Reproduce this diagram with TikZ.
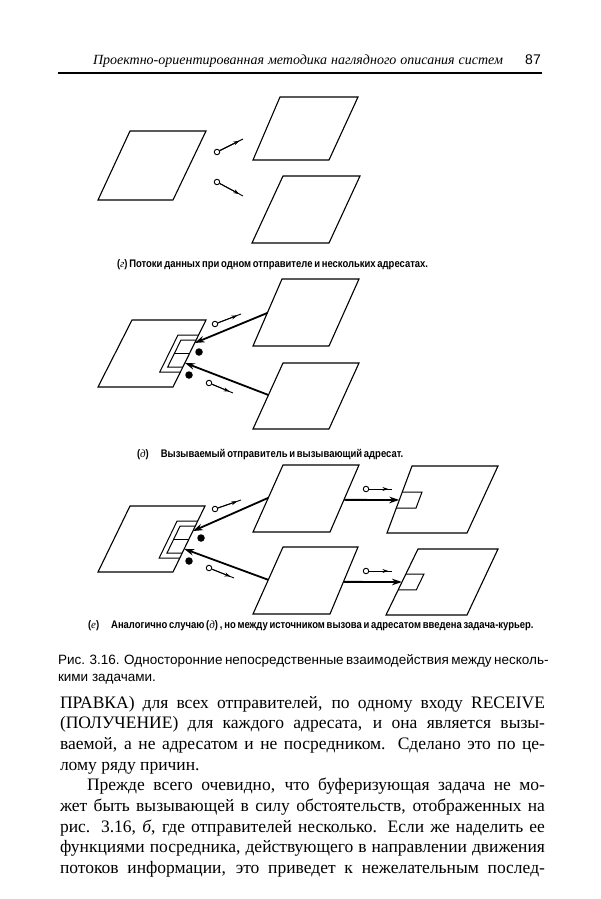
\documentclass[tikz,border=0pt]{standalone}
\usepackage{fontspec}
\setmainfont{Liberation Serif}
\newfontfamily\capfont{Liberation Sans}
\newfontfamily\capbfont[FakeStretch=0.86]{Liberation Sans}
\newfontfamily\headfont{Liberation Serif}
\usetikzlibrary{arrows.meta,calc}
\newcommand\mypara[5]{%
  \coordinate (#1-tl) at (#2);
  \coordinate (#1-tr) at (#3);
  \coordinate (#1-br) at (#4);
  \coordinate (#1-bl) at (#5);
  \draw[parastyle] (#1-tl) -- (#1-tr) -- (#1-br) -- (#1-bl) -- cycle;}
\newcommand\sarrow[3]{%
  \node[smallcirc] (#1) at (#2) {};
  \coordinate (#1-e) at (#3);
  \draw[thinln] (#1) -- (#1-e);
  \draw[thinhead] (#1) -- ($(#1)!0.86!(#1-e)$);}
\begin{document}
\begin{tikzpicture}[x=1pt,y=-1pt,
  parastyle/.style={line width=1.1pt, line join=miter},
  frm/.style={line width=1pt},
  bigarr/.style={line width=1.8pt, -{Stealth[length=10pt,width=6.5pt]}},
  smallcirc/.style={circle, draw, line width=0.9pt, fill=white, inner sep=0pt, minimum size=5.5pt},
  thinln/.style={line width=0.9pt},
  thinhead/.style={line width=0.9pt, -{Stealth[length=6pt,width=4pt]}},
  dot/.style={circle, fill=black, inner sep=0pt, minimum size=7.5pt},
  txt/.style={anchor=base west, inner sep=0pt, outer sep=0pt},
  capb/.style={txt, font=\capbfont\bfseries\fontsize{11}{13}\selectfont}]
\fill[white] (0,0) rectangle (600,899);
\useasboundingbox (0,0) rectangle (600,899);

% ---------- header ----------
\node[txt] (head) at (93,64) {\headfont\itshape\fontsize{14}{17}\selectfont\makebox[410pt][s]{Проектно-ориентированная методика наглядного описания систем}};
\node[anchor=base east, inner sep=0pt] (pg) at (541,64) {\capfont\fontsize{14}{17}\selectfont 87};
\coordinate (rl) at (58,73);
\coordinate (rr) at (542,73);
\draw[line width=1.3pt] (rl) -- (rr);

% ---------- panel (g) ----------
\mypara{gl}{130,131}{206,131}{173,200}{98,200}
\mypara{gt}{280,97}{358,97}{329,160}{253,160}
\mypara{gb}{283,176}{360,176}{329,243}{252,243}
\sarrow{ga1}{217,152}{243,139}
\sarrow{ga2}{217,182}{243,196}
\node[capb] (capg) at (117,267) {\makebox[308pt][s]{({\normalfont\itshape г})\ Потоки данных при одном отправителе и нескольких адресатах.}};

% ---------- panel (d) ----------
\mypara{dl}{132,320}{206,320}{173,387}{98,387}
\mypara{dt}{282,279}{359,279}{329,346}{253,346}
\mypara{db}{283,363}{359,363}{329,429}{253,429}
% buffer frame
\draw[frm] (198.6,335) -- (178,335) -- (159.8,372) -- (180.4,372);
\draw[frm] (196.2,340) -- (181,340) -- (167.7,367) -- (182.9,367);
\draw[frm] (174.3,353.5) -- (189.5,353.5);
\coordinate (dtip1) at ($(dl-tr)!0.343!(dl-br)$);
\coordinate (dtip2) at ($(dl-tr)!0.64!(dl-br)$);
\coordinate (dtail1) at ($(dt-tl)!0.507!(dt-bl)$);
\coordinate (dtail2) at ($(db-tl)!0.485!(db-bl)$);
\draw[bigarr] (dtail1) -- (dtip1);
\draw[bigarr] (dtail2) -- (dtip2);
\node[dot] (dd1) at (199,352) {};
\node[dot] (dd2) at (189,375) {};
\sarrow{da1}{215,324}{241,314}
\sarrow{da2}{209,383}{233,393}
\node[capb] (capd) at (137,457) {\makebox[241pt][s]{({\normalfont\itshape д})\hspace{12pt}Вызываемый отправитель и вызывающий адресат.}};

% ---------- panel (e) ----------
\mypara{el}{130,506}{205,506}{173,572}{98,572}
\mypara{em1}{283,465}{359,465}{330,532}{253,532}
\mypara{em2}{283,547}{358,547}{330,614}{253,614}
\mypara{er1}{412,466}{498,466}{467,533}{387,533}
\mypara{er2}{418,549}{498,549}{467,615}{386,615}
% buffer frame
\draw[frm] (197.7,521) -- (177.1,521) -- (159.2,558) -- (179.8,558);
\draw[frm] (195.3,526) -- (180.1,526) -- (167.0,553) -- (182.2,553);
\draw[frm] (173.6,539.5) -- (188.8,539.5);
% small boxes on right tasks
\coordinate (b1a) at ($(er1-tl)!0.388!(er1-bl)$);
\coordinate (b1b) at ($(er1-tl)!0.627!(er1-bl)$);
\draw[frm] (b1a) -- ++(19.7,0) -- ($(b1b)+(19.7,0)$) -- (b1b);
\coordinate (b2a) at ($(er2-tl)!0.379!(er2-bl)$);
\coordinate (b2b) at ($(er2-tl)!0.621!(er2-bl)$);
\draw[frm] (b2a) -- ++(18.1,0) -- ($(b2b)+(18.1,0)$) -- (b2b);
% arrows
\coordinate (etip1) at ($(el-tr)!0.38!(el-br)$);
\coordinate (etip2) at ($(el-tr)!0.65!(el-br)$);
\coordinate (etail1) at ($(em1-tl)!0.49!(em1-bl)$);
\coordinate (etail2) at ($(em2-tl)!0.49!(em2-bl)$);
\draw[bigarr] (etail1) -- (etip1);
\draw[bigarr] (etail2) -- (etip2);
\coordinate (rtail1) at ($(em1-tr)!0.52!(em1-br)$);
\coordinate (rtail2) at ($(em2-tr)!0.52!(em2-br)$);
\coordinate (rtip1) at ($(er1-tl)!0.507!(er1-bl)$);
\coordinate (rtip2) at ($(er2-tl)!0.5!(er2-bl)$);
\draw[bigarr] (rtail1) -- (rtip1);
\draw[bigarr] (rtail2) -- (rtip2);
\node[dot] (ed1) at (201,538) {};
\node[dot] (ed2) at (189,561) {};
\sarrow{ea1}{215,509}{241,500}
\sarrow{ea2}{209,568}{234,578}
\sarrow{ea3}{366,489}{392,489}
\sarrow{ea4}{366,571}{392,571}
\node[capb] (cape) at (88,628) {\makebox[420pt][s]{({\normalfont\itshape е})\hspace{12pt}Аналогично случаю ({\normalfont\itshape д}) , но между источником вызова и адресатом введена задача-курьер.}};

% ---------- figure caption ----------
\node[txt] (fc1) at (58,664) {\capfont\fontsize{13.5}{16}\selectfont\makebox[487pt][s]{Рис. 3.16. Односторонние непосредственные взаимодействия между несколь-}};
\node[txt] (fc2) at (58,681) {\capfont\fontsize{13.5}{16}\selectfont кими задачами.};

% ---------- body text ----------
\begin{scope}[every node/.style={txt}]
\node (l1) at (60,708) {\fontsize{17.5}{21}\selectfont\makebox[485pt][s]{ПРАВКА) для всех отправителей, по одному входу RECEIVE}};
\node (l2) at (60,728.7) {\fontsize{17.5}{21}\selectfont\makebox[485pt][s]{(ПОЛУЧЕНИЕ) для каждого адресата, и она является вызы-}};
\node (l3) at (60,749.4) {\fontsize{17.5}{21}\selectfont\makebox[485pt][s]{ваемой, а не адресатом и не посредником. Сделано это по це-}};
\node (l4) at (60,770.1) {\fontsize{17.5}{21}\selectfont лому ряду причин.};
\node (l5) at (87,790.8) {\fontsize{17.5}{21}\selectfont\makebox[458pt][s]{Прежде всего очевидно, что буферизующая задача не мо-}};
\node (l6) at (60,811.5) {\fontsize{17.5}{21}\selectfont\makebox[485pt][s]{жет быть вызывающей в силу обстоятельств, отображенных на}};
\node (l7) at (60,832.2) {\fontsize{17.5}{21}\selectfont\makebox[485pt][s]{рис. 3.16, \textit{б}, где отправителей несколько. Если же наделить ее}};
\node (l8) at (60,852.9) {\fontsize{17.5}{21}\selectfont\makebox[485pt][s]{функциями посредника, действующего в направлении движения}};
\node (l9) at (60,873.6) {\fontsize{17.5}{21}\selectfont\makebox[485pt][s]{потоков информации, это приведет к нежелательным послед-}};
\end{scope}
\end{tikzpicture}
\end{document}
